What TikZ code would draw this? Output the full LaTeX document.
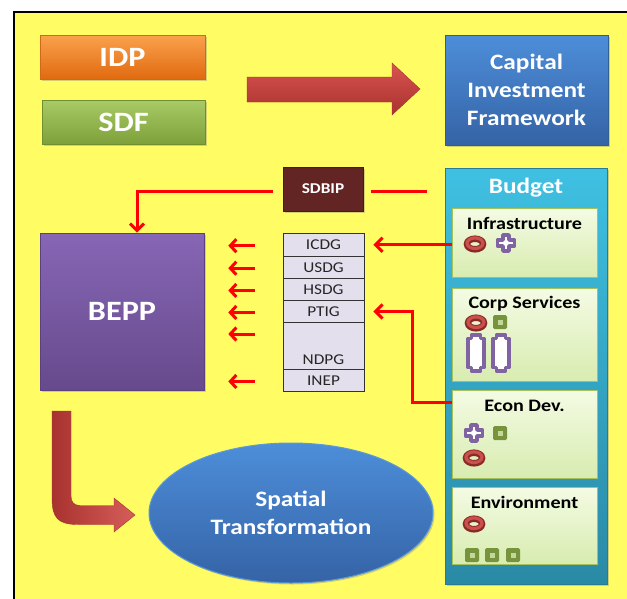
\documentclass[tikz,border=0pt]{standalone}
\usepackage{fontspec}
\setmainfont{Carlito}[FakeStretch=1.15]
\usetikzlibrary{shapes.geometric,arrows.meta,shadows,calc}
\definecolor{bgyellow}{HTML}{FFFC64}
\definecolor{redline}{HTML}{FF0000}
\definecolor{ringred}{HTML}{C9504B}
\definecolor{ringdark}{HTML}{8A2A27}
\definecolor{purp}{HTML}{8064A2}
\definecolor{olive}{HTML}{77933C}
\definecolor{olivelt}{HTML}{C3D69B}
\definecolor{cellfill}{HTML}{E4DFEC}
\definecolor{subdraw}{HTML}{A5C25C}
\definecolor{subtop}{HTML}{F4FBE4}
\definecolor{subbot}{HTML}{D8ECB0}
\definecolor{idpdraw}{HTML}{D0691A}
\definecolor{idptop}{HTML}{FAA24C}
\definecolor{idpbot}{HTML}{E06A10}
\definecolor{sdfdraw}{HTML}{6E8E30}
\definecolor{sdftop}{HTML}{A9CB66}
\definecolor{sdfbot}{HTML}{7DA03A}
\definecolor{bluedraw}{HTML}{2F5E99}
\definecolor{bluetop}{HTML}{4D8ED9}
\definecolor{bluebot}{HTML}{3563A6}
\definecolor{blueedge}{HTML}{5B9BD5}
\definecolor{arrtop}{HTML}{D9534F}
\definecolor{arrbot}{HTML}{A8322F}
\definecolor{arrlt}{HTML}{D65E5A}
\definecolor{sdbipfill}{HTML}{632523}
\definecolor{sdbipdraw}{HTML}{4A1A18}
\definecolor{beppdraw}{HTML}{5A4282}
\definecolor{bepptop}{HTML}{8766B5}
\definecolor{beppbot}{HTML}{664A8C}
\definecolor{buddraw}{HTML}{267C96}
\definecolor{budtop}{HTML}{3FC0E2}
\definecolor{budbot}{HTML}{2A8AA6}
\tikzset{
  bigbox/.style={draw=#1, line width=0.6pt, inner sep=2pt, align=center, text=white,
    drop shadow={shadow xshift=1.5pt, shadow yshift=-1.5pt, opacity=0.35}},
  subbox/.style={draw=subdraw, line width=1pt, top color=subtop, bottom color=subbot,
    minimum width=145pt, inner sep=0pt,
    drop shadow={shadow xshift=1.2pt, shadow yshift=-1.2pt, opacity=0.3}},
  subtitle/.style={font=\fontsize{17.5}{19}\selectfont\bfseries, text=black, anchor=center, yshift=-16pt},
  cell/.style={draw=black!80, line width=0.9pt, fill=cellfill, minimum width=81pt, inner sep=0pt,
    anchor=north, font=\fontsize{15}{17}\selectfont, text=black!85},
  redconn/.style={draw=redline, line width=3pt},
  redtip/.style={-{Straight Barb[length=7pt,width=14pt]}},
  ringicon/.pic={
    \draw[line width=6.5pt, draw=ringdark] (0,0) ellipse [x radius=8pt, y radius=5.3pt];
    \draw[line width=3.2pt, draw=ringred] (0,-0.8) ellipse [x radius=8pt, y radius=5.3pt];
  },
  plusicon/.pic={
    \draw[line width=3.6pt, draw=purp, fill=white, line join=round]
      (-3,-8) -- (3,-8) -- (3,-3) -- (8.5,-3) -- (8.5,3) -- (3,3) -- (3,8)
      -- (-3,8) -- (-3,3) -- (-8.5,3) -- (-8.5,-3) -- (-3,-3) -- cycle;
  },
  sqicon/.pic={
    \fill[olive, rounded corners=1.5pt] (-7,-7) rectangle (7,7);
    \fill[olivelt] (-2.5,-2.5) rectangle (2.5,2.5);
  },
  baricon/.pic={
    \draw[line width=3.4pt, draw=purp, fill=white, line join=round]
      (-4.5,-18) -- (4.5,-18) -- (4.5,-14.5) -- (8,-14.5) -- (8,14.5) -- (4.5,14.5) -- (4.5,18)
      -- (-4.5,18) -- (-4.5,14.5) -- (-8,14.5) -- (-8,-14.5) -- (-4.5,-14.5) -- cycle;
  },
}
\begin{document}
\begin{tikzpicture}[x=1pt,y=-1pt]
\useasboundingbox (0,0) rectangle (627,598);
\clip (0,0) rectangle (627,598);
\fill[white] (0,0) rectangle (627,598);
\draw[line width=1.6pt, fill=bgyellow] (14,12) rectangle (680,650);

% top boxes
\node[bigbox=idpdraw, top color=idptop, bottom color=idpbot,
  minimum width=165pt, minimum height=44pt, font=\fontsize{28}{30}\selectfont\bfseries]
  (idp) at (122.5,57) {IDP};
\node[bigbox=sdfdraw, top color=sdftop, bottom color=sdfbot,
  minimum width=163pt, minimum height=44pt, font=\fontsize{28}{30}\selectfont\bfseries]
  (sdf) at (123.5,122) {SDF};
\node[bigbox=bluedraw, top color=bluetop, bottom color=bluebot,
  minimum width=163pt, minimum height=110pt, font=\fontsize{22}{28}\selectfont\bfseries]
  (cif) at (526.5,90) {Capital\\Investment\\Framework};

% big top arrow
\path[top color=arrtop, bottom color=arrbot, draw=arrbot, line width=0.4pt]
  (247,77) -- (392,77) -- (392,63) -- (420,89) -- (392,115) -- (392,102) -- (247,102) -- cycle;

% SDBIP
\node[bigbox=sdbipdraw, fill=sdbipfill, minimum width=80pt, minimum height=44pt,
  font=\fontsize{15}{17}\selectfont\bfseries] (sdbip) at (323,189) {SDBIP};

% BEPP
\node[bigbox=beppdraw, top color=bepptop, bottom color=beppbot,
  minimum width=164pt, minimum height=157pt, font=\fontsize{28}{30}\selectfont\bfseries]
  (bepp) at (122,311.5) {BEPP};

% Budget container
\node[bigbox=buddraw, top color=budtop, bottom color=budbot,
  minimum width=162pt, minimum height=416pt,
  label={[font=\fontsize{22}{24}\selectfont\bfseries, text=white, anchor=center, yshift=-20pt]north:Budget}]
  (budget) at (526,376) {};

\node[subbox, minimum height=69pt, label={[subtitle]north:Infrastructure}] (infra) at (524.5,242.5) {};
\node[subbox, minimum height=93pt, label={[subtitle]north:Corp Services}] (corp) at (524.5,334.5) {};
\node[subbox, minimum height=88pt, label={[subtitle]north:Econ Dev.}] (econ) at (524.5,434) {};
\node[subbox, minimum height=77pt, label={[subtitle]north:Environment}] (env) at (524.5,525.5) {};

% icons
\pic at (475,244) {ringicon};
\pic at (506,243) {plusicon};
\pic at (476,323) {ringicon};
\pic at (500,322) {sqicon};
\pic at (476,353) {baricon};
\pic at (501,353) {baricon};
\pic at (474,433) {plusicon};
\pic at (500,433) {sqicon};
\pic at (474,458) {ringicon};
\pic at (474,524) {ringicon};
\pic at (472,555) {sqicon};
\pic at (492,555) {sqicon};
\pic at (513,555) {sqicon};

% table
\node[cell, minimum height=22.5pt] (icdg) at (323.5,233) {ICDG};
\node[cell, minimum height=22.5pt] (usdg) at (323.5,255.5) {USDG};
\node[cell, minimum height=22pt] (hsdg) at (323.5,278) {HSDG};
\node[cell, minimum height=22pt] (ptig) at (323.5,300) {PTIG};
\node[cell, minimum height=47pt] (ndpg) at (323.5,322) {};
\node[font=\fontsize{15}{17}\selectfont, text=black!85, inner sep=0pt] (ndpgtext) at ([yshift=10pt]ndpg.south) {NDPG};
\node[cell, minimum height=22pt] (inep) at (323.5,369) {INEP};

% small arrows to BEPP
\foreach \c in {icdg,usdg,hsdg,ptig,inep}
  \draw[redconn,-{Straight Barb[length=6pt,width=13pt]}]
    ($(\c.west)+(-28,1)$) -- ($(bepp.east |- \c.west)+(24,1)$);
\draw[redconn,-{Straight Barb[length=6pt,width=13pt]}]
  ($(ndpg.north west)+(-28,12)$) -- ($(bepp.east |- ndpg.north west)+(24,12)$);

% red connectors
\draw[redconn,redtip] ($(sdbip.west)+(-10,2)$) -| ($(bepp.north)+(15,0)$);
\draw[redconn] ($(sdbip.east)+(8,2)$) -- ($(budget.west |- sdbip.east)+(-18,2)$);
\draw[redconn,redtip] (infra.west |- icdg.east) -- ($(icdg.east)+(9,0)$);
\draw[redconn,redtip] ($(econ.north west)+(0,13)$) -- ++(-39,0) |- ($(ptig.east)+(9,0)$);

% curved arrow
\path[left color=arrbot, right color=arrlt, draw=arrbot, line width=0.4pt]
  (52,411) -- (52,498) .. controls (52,518) and (58,524.5) .. (78,524.5) -- (114,524.5)
  -- (114,532) -- (135,515) -- (114,498) -- (114,505.5) -- (80,505.5)
  .. controls (74,505.5) and (71,502) .. (71,496) -- (71,411) -- cycle;

% ellipse
\node[ellipse, draw=blueedge, line width=1pt, top color=bluetop, bottom color=bluebot,
  minimum width=284pt, minimum height=140pt, inner sep=0pt, align=center, text=white,
  font=\fontsize{22}{28}\selectfont\bfseries,
  drop shadow={shadow xshift=1.5pt, shadow yshift=-1.5pt, opacity=0.35}]
  (spatial) at (291,513) {Spatial\\Transformation};
\end{tikzpicture}
\end{document}
